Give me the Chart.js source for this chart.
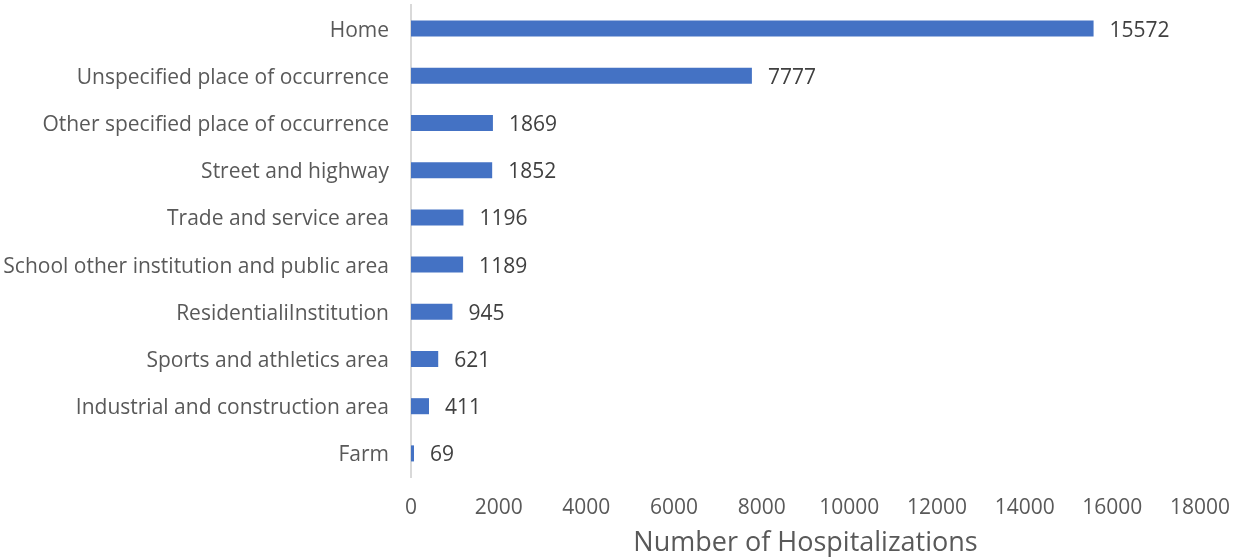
<!DOCTYPE html>
<html>
<head>
<meta charset="utf-8">
<script src="https://cdn.jsdelivr.net/npm/chart.js@4.4.1/dist/chart.umd.min.js"></script>
<style>
  html, body { margin: 0; padding: 0; background: #fff; }
  #wrap { width: 1235px; height: 557px; position: relative; }
</style>
</head>
<body>
<div id="wrap"><canvas id="grafico"></canvas></div>
<script>
// dados
const categories = [
    'Home',
    'Unspecified place of occurrence',
    'Other specified place of occurrence',
    'Street and highway',
    'Trade and service area',
    'School other institution and public area',
    'ResidentialiInstitution',
    'Sports and athletics area',
    'Industrial and construction area',
    'Farm'
];
const hospitalizations = [15572, 7777, 1869, 1852, 1196, 1189, 945, 621, 411, 69];
const xTicks = [0, 2000, 4000, 6000, 8000, 10000, 12000, 14000, 16000, 18000];

const fontFamily = "'Open Sans', sans-serif";
const textColor = '#595959';

// rótulos no fim das barras
const barLabels = {
    id: 'barLabels',
    afterDatasetsDraw(chart) {
        const ctx = chart.ctx;
        const meta = chart.getDatasetMeta(0);
        ctx.save();
        ctx.font = "21px " + fontFamily;
        ctx.fillStyle = '#404040';
        ctx.textAlign = 'left';
        ctx.textBaseline = 'middle';
        meta.data.forEach(function(bar, i) {
            ctx.fillText(String(hospitalizations[i]), bar.x + 16, bar.y + 2);
        });
        ctx.restore();
    }
};

new Chart(document.getElementById('grafico'), {
    type: 'bar',
    data: {
        labels: categories,
        datasets: [{
            data: hospitalizations,
            backgroundColor: '#4472C4',
            borderWidth: 0,
            barPercentage: 0.34,
            categoryPercentage: 1
        }]
    },
    options: {
        indexAxis: 'y',
        responsive: true,
        maintainAspectRatio: false,
        animation: false,
        layout: { padding: { top: 5, right: 35, bottom: 0, left: 0 } },
        plugins: { legend: { display: false }, tooltip: { enabled: false } },
        scales: {
            x: {
                min: 0,
                max: 18000,
                afterBuildTicks(scale) { scale.ticks = xTicks.map(v => ({ value: v })); },
                grid: { display: false, drawTicks: false },
                border: { display: false },
                ticks: {
                    color: textColor,
                    font: { family: fontFamily, size: 21 },
                    padding: 18,
                    callback: v => String(v)
                },
                title: {
                    display: true,
                    text: 'Number of Hospitalizations',
                    color: textColor,
                    font: { family: fontFamily, size: 27, lineHeight: 1 },
                    padding: { top: 0, bottom: 0 }
                },
                afterFit(scale) {
                    scale.height = 80;
                    scale.paddingLeft = 0;
                    scale.paddingRight = 0;
                }
            },
            y: {
                grid: { display: false, drawTicks: false },
                border: { display: true, color: '#D9D9D9', width: 2 },
                ticks: {
                    color: textColor,
                    font: { family: fontFamily, size: 21 },
                    padding: 22,
                    labelOffset: 2
                },
                afterFit(scale) {
                    scale.width = 411;
                    scale.paddingTop = 0;
                    scale.paddingBottom = 0;
                }
            }
        }
    },
    plugins: [barLabels]
});
</script>
</body>
</html>
